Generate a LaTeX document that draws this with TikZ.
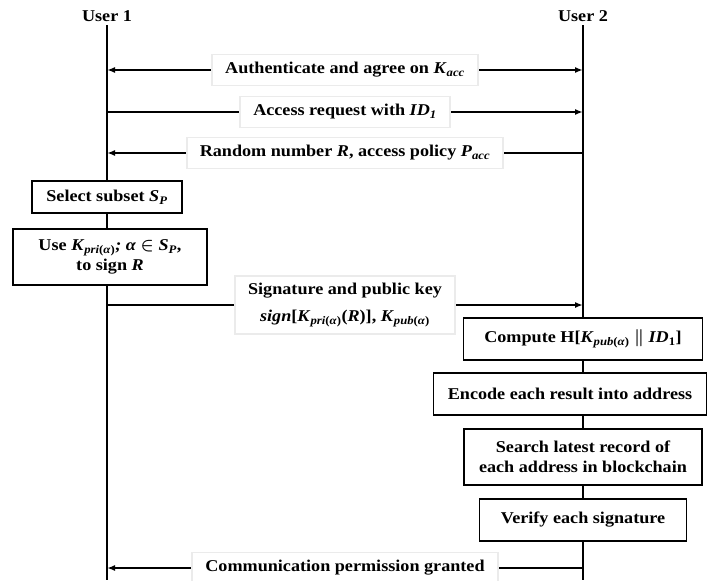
\documentclass[tikz,border=0pt]{standalone}
\usepackage{amsmath}
\usepackage{amssymb}
\usepackage{fontspec}
\setmainfont{Liberation Serif}[FakeStretch=1.1]
\usetikzlibrary{arrows.meta,positioning}

\newcommand{\bi}[1]{\textit{#1}}

\begin{document}
\begin{tikzpicture}[x=1pt,y=-1pt,>={Latex[length=8pt,width=6pt]},
	font=\fontsize{16.5}{20}\selectfont\bfseries\boldmath,
	act/.style={draw,line width=1.3pt,fill=white,align=center,minimum height=42pt},
	msg/.style={fill=white,draw=black!8,align=center,minimum height=31pt,inner xsep=13pt},
	life/.style={line width=1.3pt},
	sig/.style={line width=1.8pt}]

	\useasboundingbox (0,0) rectangle (708,580);

	\node (u1) at (107,16) {User 1};
	\node (u2) at (583,16) {User 2};
	\coordinate (b1) at (107,580);
	\coordinate (b2) at (583,580);

	\foreach \n/\y in {1/70,2/112,3/153,4/305,5/568} {
		\coordinate (l\n) at (107,\y);
		\coordinate (r\n) at (583,\y);
	}

	\node[act,minimum width=150pt,minimum height=32pt] (sel) at (107,197) {Select subset \bi{S}\textsubscript{\bi{P}}};
	\node[act,minimum width=194pt,minimum height=56pt] (use) at (110,257)
		{Use \bi{K}\textsubscript{\bi{pri}(\bi{α})}\bi{; α} $\in$ \bi{S}\textsubscript{\bi{P}},\\ to sign \bi{R}};

	\node[act,minimum width=239pt] (comp) at (583,339)
		{Compute H[\bi{K}\textsubscript{\bi{pub}(\bi{α})} $\Vert$ \bi{ID}\textsubscript{1}]};
	\node[act,minimum width=273pt] (enc) at (570,394) {Encode each result into address};
	\node[act,minimum width=238pt,minimum height=56pt] (srch) at (583,457)
		{Search latest record of\\ each address in blockchain};
	\node[act,minimum width=207pt] (ver) at (583,520) {Verify each signature};

	\draw[life] (u1.south) -- (sel.north);
	\draw[life] (sel.south) -- (sel.south |- use.north);
	\draw[life] (use.south -| u1) -- (b1);

	\draw[life] (u2.south) -- (comp.north);
	\draw[life] (comp.south) -- (comp.south |- enc.north);
	\draw[life] (enc.south -| u2) -- (srch.north);
	\draw[life] (srch.south) -- (ver.north);
	\draw[life] (ver.south) -- (b2);

	\draw[sig,<->] (l1) -- node[msg] {Authenticate and agree on \bi{K}\textsubscript{\bi{acc}}} (r1);
	\draw[sig,->] (l2) -- node[msg] {Access request with \bi{ID}\textsubscript{\bi{1}}} (r2);
	\draw[sig,<-] (l3) -- node[msg] {Random number \bi{R}, access policy \bi{P}\textsubscript{\bi{acc}}} (r3);
	\draw[sig,->] (l4) -- node[msg,minimum height=58pt] {Signature and public key\\[7pt]
		\bi{sign}[\bi{K}\textsubscript{\bi{pri}(\bi{α})}(\bi{R})], \bi{K}\textsubscript{\bi{pub}(\bi{α})}} (r4);
	\draw[sig,<-] (l5) -- node[msg] {Communication permission granted} (r5);

\end{tikzpicture}
\end{document}
